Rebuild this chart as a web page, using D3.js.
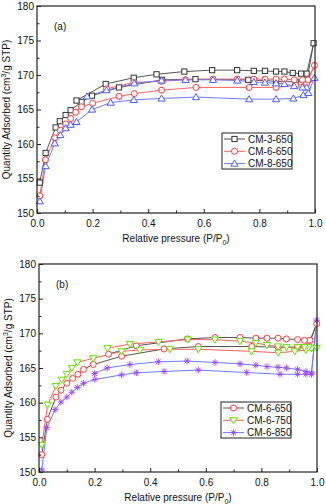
<!DOCTYPE html>
<html>
<head>
<meta charset="utf-8">
<script src="https://cdn.jsdelivr.net/npm/d3@7"></script>
<style>
  body { margin: 0; background: #fff; }
  svg { display: block; font-family: "Liberation Sans", Arial, sans-serif; }
</style>
</head>
<body>
<svg width="326" height="504"></svg>
<script>
var WIDTH = 326
var HEIGHT = 504

// ---- panel (a) data : adsorption branch then desorption branch ----
var cm3_650_p = [0.01, 0.031, 0.067, 0.082, 0.103, 0.121, 0.16, 0.198, 0.295, 0.45, 0.57, 0.76, 0.86, 0.93, 0.97, 0.995,
                 0.97, 0.95, 0.92, 0.89, 0.86, 0.82, 0.78, 0.72, 0.63, 0.53, 0.43, 0.348, 0.247, 0.142]
var cm3_650_q = [154.4, 158.7, 162.4, 163.3, 164.2, 164.9, 166.1, 167.0, 168.2, 169.3, 169.4, 169.3, 169.1, 169.0, 169.0, 174.6,
                 170.2, 170.2, 170.3, 170.5, 170.5, 170.6, 170.6, 170.7, 170.7, 170.5, 170.1, 169.6, 168.7, 166.3]

var cm6_650a_p = [0.01, 0.03, 0.064, 0.084, 0.103, 0.121, 0.139, 0.16, 0.2, 0.295, 0.35, 0.448, 0.572, 0.763, 0.86, 0.93, 0.97, 0.998,
                  0.975, 0.955, 0.925, 0.89, 0.86, 0.82, 0.78, 0.72, 0.633, 0.534, 0.448, 0.348, 0.25]
var cm6_650a_q = [152.5, 157.7, 160.9, 162.0, 162.9, 163.7, 164.6, 165.4, 165.9, 166.9, 167.3, 167.8, 168.2, 168.2, 168.2, 168.5, 168.8, 171.4,
                  169.3, 169.3, 169.3, 169.4, 169.4, 169.4, 169.4, 169.4, 169.4, 169.3, 169.1, 168.9, 168.0]

var cm8_650_p = [0.01, 0.031, 0.064, 0.084, 0.103, 0.121, 0.142, 0.198, 0.265, 0.348, 0.448, 0.572, 0.763, 0.86, 0.922, 0.958, 0.976, 0.998,
                 0.97, 0.955, 0.925, 0.89, 0.86, 0.82, 0.78, 0.72, 0.633, 0.534, 0.448, 0.35, 0.25, 0.18]
var cm8_650_q = [151.7, 156.8, 160.1, 161.3, 162.3, 162.8, 163.2, 165.0, 166.0, 166.4, 166.6, 166.8, 166.5, 166.5, 166.6, 167.1, 167.4, 169.6,
                 168.2, 168.2, 168.4, 168.7, 168.8, 168.9, 169.0, 169.2, 169.3, 169.3, 169.2, 168.8, 167.8, 166.9]

// ---- panel (b) data ----
var cm6_650b_p = [0.01, 0.03, 0.061, 0.079, 0.1, 0.121, 0.14, 0.16, 0.195, 0.297, 0.45, 0.573, 0.765, 0.86, 0.93, 0.97, 0.999,
                  0.975, 0.955, 0.93, 0.89, 0.86, 0.82, 0.78, 0.723, 0.633, 0.534, 0.35, 0.25]
var cm6_650b_q = [152.5, 157.6, 160.8, 161.8, 162.8, 163.5, 164.1, 164.8, 165.5, 166.7, 167.75, 168.1, 168.1, 168.0, 168.0, 168.2, 171.4,
                  169.0, 169.0, 169.1, 169.2, 169.3, 169.3, 169.3, 169.4, 169.4, 169.2, 168.2, 167.0]

var cm6_750_p = [0.01, 0.031, 0.061, 0.082, 0.1, 0.118, 0.138, 0.195, 0.297, 0.363, 0.471, 0.573, 0.765, 0.861, 0.92, 0.96, 0.98, 0.999,
                 0.97, 0.955, 0.93, 0.89, 0.86, 0.82, 0.78, 0.723, 0.633, 0.535, 0.43, 0.327, 0.246]
var cm6_750_q = [153.9, 159.7, 162.4, 163.3, 164.1, 165.0, 165.8, 166.4, 167.4, 167.6, 167.7, 167.7, 167.4, 167.2, 167.4, 167.6, 167.8, 167.9,
                 168.0, 168.0, 168.0, 168.0, 168.1, 168.3, 168.6, 168.85, 169.1, 169.1, 168.75, 168.45, 167.85]

var cm6_850_p = [0.01, 0.028, 0.058, 0.079, 0.1, 0.118, 0.138, 0.16, 0.201, 0.297, 0.35, 0.45, 0.573, 0.747, 0.867, 0.93, 0.96, 0.98, 0.999,
                 0.98, 0.96, 0.93, 0.89, 0.86, 0.82, 0.78, 0.723, 0.633, 0.533, 0.429, 0.327, 0.245, 0.2]
var cm6_850_q = [150.3, 156.4, 159.0, 160.1, 160.8, 161.5, 162.2, 162.8, 163.35, 164.0, 164.3, 164.5, 164.7, 164.35, 164.1, 164.1, 164.1, 164.1, 171.9,
                 164.3, 164.5, 164.8, 165.0, 165.1, 165.2, 165.4, 165.6, 165.8, 166.0, 165.9, 165.5, 165.0, 164.2]

var xTicks = [0.0, 0.2, 0.4, 0.6, 0.8, 1.0]
var yTicks = [150, 155, 160, 165, 170, 175, 180]

var svg = d3.select("svg");

var panels = [
  { tag: "(a)", left: 37, right: 315, top: 6, bottom: 213, legendX: 222, legendY: 133,
    series: [
      { name: "CM-3-650", p: cm3_650_p, q: cm3_650_q, line: "#555555", mark: "#333333", shape: "square" },
      { name: "CM-6-650", p: cm6_650a_p, q: cm6_650a_q, line: "#ff6060", mark: "#ff3b3b", shape: "circle" },
      { name: "CM-8-650", p: cm8_650_p, q: cm8_650_q, line: "#6a7dff", mark: "#4a5cff", shape: "triangle" }
    ] },
  { tag: "(b)", left: 39, right: 317, top: 264, bottom: 472, legendX: 221, legendY: 402,
    series: [
      { name: "CM-6-650", p: cm6_650b_p, q: cm6_650b_q, line: "#555555", mark: "#ff3b3b", shape: "circle" },
      { name: "CM-6-750", p: cm6_750_p, q: cm6_750_q, line: "#ff6060", mark: "#66e000", shape: "triangleDown" },
      { name: "CM-6-850", p: cm6_850_p, q: cm6_850_q, line: "#6a7dff", mark: "#a040ff", shape: "star" }
    ] }
];

function drawMarker(g, shape, color, x, y) {
  if (shape == "square") {
    g.append("rect").attr("x", x - 2.6).attr("y", y - 2.6).attr("width", 5.2).attr("height", 5.2)
      .attr("fill", "white").attr("stroke", color).attr("stroke-width", 1);
  } else if (shape == "circle") {
    g.append("circle").attr("cx", x).attr("cy", y).attr("r", 3)
      .attr("fill", "white").attr("stroke", color).attr("stroke-width", 1);
  } else if (shape == "triangle") {
    g.append("path").attr("d", "M" + x + "," + (y - 3.5) + "L" + (x + 3.6) + "," + (y + 2.6) + "L" + (x - 3.6) + "," + (y + 2.6) + "Z")
      .attr("fill", "white").attr("stroke", color).attr("stroke-width", 1);
  } else if (shape == "triangleDown") {
    g.append("path").attr("d", "M" + x + "," + (y + 3.5) + "L" + (x + 3.6) + "," + (y - 2.6) + "L" + (x - 3.6) + "," + (y - 2.6) + "Z")
      .attr("fill", "white").attr("stroke", color).attr("stroke-width", 1);
  } else {
    var r = 3.3;
    var d = "";
    [0, 45, 90, 135].forEach(function (a) {
      var dx = r * Math.cos(a * Math.PI / 180), dy = r * Math.sin(a * Math.PI / 180);
      d += "M" + (x - dx) + "," + (y - dy) + "L" + (x + dx) + "," + (y + dy);
    });
    g.append("path").attr("d", d).attr("stroke", color).attr("stroke-width", 0.9).attr("fill", "none");
  }
}

panels.forEach(function (pn) {
  var x = d3.scaleLinear().domain([0, 1]).range([pn.left, pn.right]);
  var y = d3.scaleLinear().domain([150, 180]).range([pn.bottom, pn.top]);
  var g = svg.append("g");

  // data
  pn.series.forEach(function (s) {
    var pts = s.p.map(function (v, i) { return [v, s.q[i]]; });
    var line = d3.line().x(function (d) { return x(d[0]); }).y(function (d) { return y(d[1]); });
    g.append("path").datum(pts).attr("d", line).attr("fill", "none")
      .attr("stroke", s.line).attr("stroke-width", 1);
  });
  pn.series.forEach(function (s) {
    var mg = g.append("g");
    s.p.forEach(function (v, i) { drawMarker(mg, s.shape, s.mark, x(v), y(s.q[i])); });
  });

  // frame
  g.append("rect").attr("x", pn.left).attr("y", pn.top)
    .attr("width", pn.right - pn.left).attr("height", pn.bottom - pn.top)
    .attr("fill", "none").attr("stroke", "#222").attr("stroke-width", 1.2);

  // axes with inward ticks
  var xAxis = d3.axisBottom(x).tickValues(xTicks).tickFormat(d3.format(".1f")).tickSizeInner(-4).tickSizeOuter(0).tickPadding(7);
  var xg = g.append("g").attr("transform", "translate(0," + pn.bottom + ")").call(xAxis);
  var xMinor = d3.axisBottom(x).tickValues([0.1, 0.3, 0.5, 0.7, 0.9]).tickFormat("").tickSizeInner(-2.5).tickSizeOuter(0);
  var xmg = g.append("g").attr("transform", "translate(0," + pn.bottom + ")").call(xMinor);
  var yAxis = d3.axisLeft(y).tickValues(yTicks).tickSizeInner(-4).tickSizeOuter(0).tickPadding(3);
  var yg = g.append("g").attr("transform", "translate(" + pn.left + ",0)").call(yAxis);
  var yMinor = d3.axisLeft(y).tickValues([152.5, 157.5, 162.5, 167.5, 172.5, 177.5]).tickFormat("").tickSizeInner(-2.5).tickSizeOuter(0);
  var ymg = g.append("g").attr("transform", "translate(" + pn.left + ",0)").call(yMinor);
  [xg, xmg, yg, ymg].forEach(function (a) {
    a.select(".domain").remove();
    a.selectAll("line").attr("stroke", "#222");
    a.selectAll("text").attr("fill", "#111").style("font-size", "10px")
      .style("font-family", "'Liberation Sans', Arial, sans-serif");
  });

  // panel tag
  g.append("text").attr("x", pn.left + 17).attr("y", pn.top + 24).text(pn.tag)
    .style("font-size", "10px").attr("fill", "#111");

  // axis titles
  var xt = g.append("text").attr("x", (pn.left + pn.right) / 2).attr("y", pn.bottom + 29)
    .attr("text-anchor", "middle").style("font-size", "10px").attr("fill", "#111");
  xt.append("tspan").text("Relative pressure (P/P");
  xt.append("tspan").text("0").style("font-size", "7px").attr("dy", 3);
  xt.append("tspan").text(")").attr("dy", -3);

  var yt = g.append("text")
    .attr("transform", "translate(" + (pn.left - 27) + "," + ((pn.top + pn.bottom) / 2) + ") rotate(-90)")
    .attr("text-anchor", "middle").style("font-size", "10px").attr("fill", "#111");
  yt.append("tspan").text("Quantity Adsorbed (cm");
  yt.append("tspan").text("3").style("font-size", "7px").attr("dy", -4);
  yt.append("tspan").text("/g STP)").attr("dy", 4);

  // legend
  var lg = g.append("g").attr("transform", "translate(" + pn.legendX + "," + pn.legendY + ")");
  lg.append("rect").attr("x", 0).attr("y", 0).attr("width", 70).attr("height", 36)
    .attr("fill", "white").attr("stroke", "#222").attr("stroke-width", 1);
  pn.series.forEach(function (s, i) {
    var ry = 6 + i * 12.3;
    lg.append("line").attr("x1", 2).attr("x2", 23).attr("y1", ry).attr("y2", ry)
      .attr("stroke", s.line).attr("stroke-width", 1);
    drawMarker(lg, s.shape, s.mark, 12.5, ry);
    lg.append("text").attr("x", 26).attr("y", ry + 3.6).text(s.name)
      .style("font-size", "10px").attr("fill", "#111");
  });
});
</script>
</body>
</html>
